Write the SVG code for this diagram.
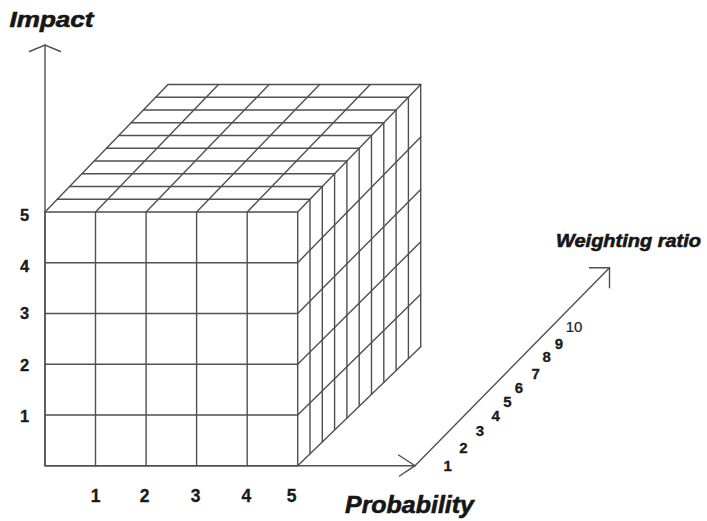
<svg xmlns="http://www.w3.org/2000/svg" width="707" height="521" viewBox="0 0 707 521">
<style>
.ln{fill:none;stroke:#505050;stroke-width:1.4;stroke-linecap:round;stroke-linejoin:round}
.ax{fill:none;stroke:#505050;stroke-width:1.4;stroke-linecap:round;stroke-linejoin:miter}
.ttl{font-family:"Liberation Sans",Arial,sans-serif;font-weight:bold;font-style:italic;fill:#161616;stroke:#161616;stroke-width:0.6}
.num{font-family:"Liberation Sans",Arial,sans-serif;font-weight:bold;fill:#1a1a1a;text-anchor:middle;stroke:#1a1a1a;stroke-width:0.3}
.thin{font-weight:normal;stroke-width:0.2}
</style>
<rect width="707" height="521" fill="#ffffff"/>
<g id="top-face">
<path class="ln" d="M57.3 199.25H310M69.6 186.5H322.3M81.9 173.75H334.6M94.2 161H346.9M106.5 148.25H359.2M118.8 135.5H371.5M131.1 122.75H383.8M143.4 110H396.1M155.7 97.25H408.4M168 84.5H420.7"/>
<path class="ln" d="M45 212L168 84.5M95.5 212L218.5 84.5M146.1 212L269.1 84.5M196.6 212L319.6 84.5M247.2 212L370.2 84.5M297.7 212L420.7 84.5"/>
</g>
<g id="right-face">
<path class="ln" d="M310 199.25V453.8M322.3 186.5V441.9M334.6 173.75V430M346.9 161V418.1M359.2 148.25V406.2M371.5 135.5V394.3M383.8 122.75V382.4M396.1 110V370.5M408.4 97.25V358.6M420.7 84.5V346.7"/>
<path class="ln" d="M297.7 262.7L420.7 136.9M297.7 313.5L420.7 189.4M297.7 364.2L420.7 241.8M297.7 415L420.7 294.3M297.7 465.7L420.7 346.7"/>
</g>
<g id="front-face">
<rect class="ln" x="45" y="212" width="252.7" height="253.7"/>
<path class="ln" d="M95.5 212V465.7M146.1 212V465.7M196.6 212V465.7M247.2 212V465.7"/>
<path class="ln" d="M45 262.7H297.7M45 313.5H297.7M45 364.2H297.7M45 415H297.7"/>
</g>
<g id="connectors">
<g id="impact-axis">
<path class="ax" d="M45 465.7V45"/>
<path class="ax" d="M29.5 51.5L45 45L60.5 51.5"/>
</g>
<g id="probability-axis">
<path class="ax" d="M45 465.7H415"/>
<path class="ax" d="M398.5 455L415 465.7L399.5 476"/>
</g>
<g id="weighting-axis">
<path class="ax" d="M415 465.7L609.5 267.7"/>
<path class="ax" d="M589.5 267.7H609.5V287.7"/>
</g>
</g>
<g id="impact-label">
<text class="ttl" x="9.5" y="26.7" font-size="22.5" textLength="84" lengthAdjust="spacingAndGlyphs">Impact</text>
<text class="num" font-size="16.5" x="24.7" y="220.9">5</text>
<text class="num" font-size="16.5" x="24.7" y="271.9">4</text>
<text class="num" font-size="16.5" x="24.7" y="319.4">3</text>
<text class="num" font-size="16.5" x="24.7" y="370.9">2</text>
<text class="num" font-size="16.5" x="24.7" y="421.9">1</text>
</g>
<g id="probability-label">
<text class="ttl" x="345" y="513" font-size="24.5" textLength="129" lengthAdjust="spacingAndGlyphs">Probability</text>
<text class="num" font-size="17.5" x="95.7" y="501.7">1</text>
<text class="num" font-size="17.5" x="144.7" y="501.7">2</text>
<text class="num" font-size="17.5" x="195.7" y="501.7">3</text>
<text class="num" font-size="17.5" x="246.3" y="501.7">4</text>
<text class="num" font-size="17.5" x="291.7" y="501.7">5</text>
</g>
<g id="weighting-label">
<text class="ttl" x="556" y="247" font-size="18" textLength="145" lengthAdjust="spacingAndGlyphs">Weighting ratio</text>
<text class="num" font-size="15" x="447.7" y="471.3">1</text>
<text class="num" font-size="15" x="463.3" y="453">2</text>
<text class="num" font-size="15" x="480" y="436">3</text>
<text class="num" font-size="15" x="495.7" y="421.3">4</text>
<text class="num" font-size="15" x="507.3" y="407">5</text>
<text class="num" font-size="15" x="519" y="393">6</text>
<text class="num" font-size="15" x="535.7" y="379.3">7</text>
<text class="num" font-size="15" x="546.7" y="362.3">8</text>
<text class="num" font-size="15" x="559" y="348.6">9</text>
<text class="num thin" font-size="15" x="574" y="332">10</text>
</g>
</svg>
